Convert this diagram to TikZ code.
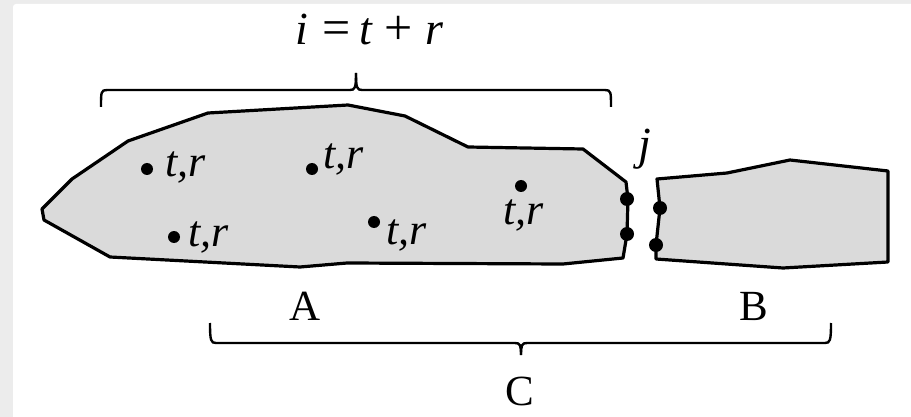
\documentclass[tikz,border=0pt]{standalone}
\usepackage{fontspec}
\setmainfont{Liberation Serif}
\definecolor{regionfill}{RGB}{218,218,218}
\definecolor{framegray}{RGB}{236,236,236}
\tikzset{
  region/.style={draw=black, fill=regionfill, line width=3.2pt, line join=round},
  brk/.style={draw=black, line width=2.4pt},
  pt/.style={fill=black},
  lbl/.style={font=\fontsize{44}{50}\selectfont, inner sep=0pt, anchor=base west},
  ctext/.style={font=\fontsize{43}{50}\selectfont, inner sep=0pt, anchor=base},
}
\begin{document}
\begin{tikzpicture}[x=1pt,y=-1pt]
\useasboundingbox (0,0) rectangle (911,417);
\fill[framegray] (0,0) rectangle (911,417);
\fill[white, rounded corners=3pt] (13,4) rectangle (915,421);
% region A
\draw[region] (42,209) -- (72,179) -- (128,141) -- (208,113) -- (348,105) -- (405,116)
  -- (468,147) -- (583,149) -- (626,182) -- (628,199) -- (627,234) -- (623,258)
  -- (563,264) -- (347,263) -- (300,267) -- (110,257) -- (44,220) -- cycle;
% region B
\draw[region] (657,179) -- (727,173) -- (790,160) -- (888,171) -- (888,262) -- (783,268)
  -- (656,259) -- (656,245) -- (660,208) -- cycle;
% points
\foreach \n/\x/\y in {d1/147/169, d2/312/169, d3/174/237, d4/374/222, d5/521/186}
  \fill[pt] (\x,\y) circle[radius=6pt] coordinate (\n);
\foreach \n/\x/\y in {ja1/627/199, ja2/627/234, jb1/660/208, jb2/656/245}
  \fill[pt] (\x,\y) circle[radius=7pt] coordinate (\n);
% labels t,r
\node[lbl] (l1) at (165,177) {\textit{t,}\kern0.5pt\textit{r}};
\node[lbl] (l2) at (323,168) {\textit{t,}\kern0.5pt\textit{r}};
\node[lbl] (l3) at (188,246) {\textit{t,}\kern0.5pt\textit{r}};
\node[lbl] (l4) at (386,244) {\textit{t,}\kern0.5pt\textit{r}};
\node[lbl] (l5) at (503,225) {\textit{t,}\kern0.5pt\textit{r}};
\node[ctext, font=\fontsize{46}{50}\selectfont] (j) at (645,160) {\textit{j}};
% top formula
\node[ctext, font=\fontsize{46}{50}\selectfont] (fi) at (302,45) {\textit{i}};
\node[ctext, font=\fontsize{50}{54}\selectfont] (feq) at (337,45) {=};
\node[ctext, font=\fontsize{46}{50}\selectfont] (ft) at (366,45) {\textit{t}};
\node[ctext, font=\fontsize{50}{54}\selectfont] (fplus) at (399,45) {+};
\node[ctext, font=\fontsize{46}{50}\selectfont] (fr) at (435,45) {\textit{r}};
% top bracket
\draw[brk] (101,107) .. controls (101,92) and (101,90) .. (107,90) -- (350,90)
  .. controls (355,90) and (356,88) .. (356,73);
\draw[brk] (356,73) .. controls (356,88) and (357,90) .. (362,90) -- (605,90)
  .. controls (611,90) and (611,92) .. (611,107);
% bottom bracket
\draw[brk] (210,323) .. controls (210,341) and (211,343) .. (216,343) -- (515,343)
  .. controls (520,343) and (521,345) .. (521,355);
\draw[brk] (521,355) .. controls (521,345) and (522,343) .. (527,343) -- (825,343)
  .. controls (830,343) and (831,341) .. (831,323);
% A B C
\node[ctext] (A) at (305,320) {A};
\node[ctext] (B) at (754,320) {B};
\node[ctext] (C) at (520,405) {C};
\end{tikzpicture}
\end{document}
